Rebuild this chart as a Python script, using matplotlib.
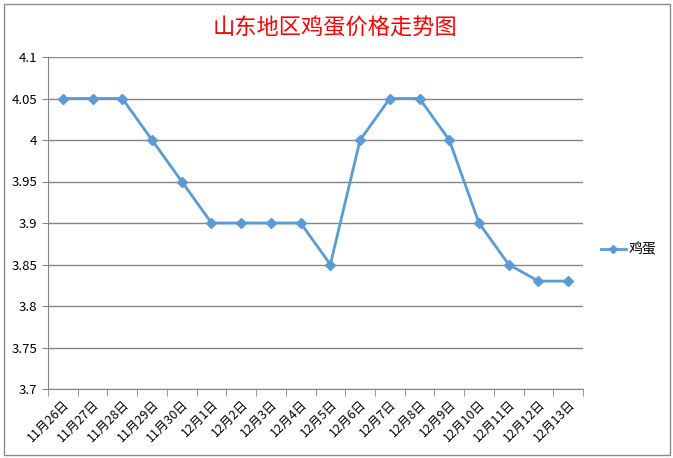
import numpy as np
import matplotlib
matplotlib.use("Agg")
import matplotlib.pyplot as plt
from matplotlib.patches import Rectangle

plt.rcParams['font.family'] = ['Noto Sans CJK SC', 'DejaVu Sans']

# data
dates = ['11月26日', '11月27日', '11月28日', '11月29日', '11月30日', '12月1日',
         '12月2日', '12月3日', '12月4日', '12月5日', '12月6日', '12月7日',
         '12月8日', '12月9日', '12月10日', '12月11日', '12月12日', '12月13日']
prices = [4.05, 4.05, 4.05, 4.00, 3.95, 3.90, 3.90, 3.90, 3.90, 3.85,
          4.00, 4.05, 4.05, 4.00, 3.90, 3.85, 3.83, 3.83]
yticks = [3.7, 3.75, 3.8, 3.85, 3.9, 3.95, 4.0, 4.05, 4.1]
ytick_labels = ['3.7', '3.75', '3.8', '3.85', '3.9', '3.95', '4', '4.05', '4.1']

fig = plt.figure(figsize=(6.73, 4.58), dpi=100)
fig.patch.set_facecolor('white')
# chart border
fig.patches.append(Rectangle((4 / 673, 3 / 458), 666 / 673, 451 / 458,
                             transform=fig.transFigure, fill=False,
                             edgecolor='#8c8c8c', linewidth=1))

ax = fig.add_axes([48 / 673, 69 / 458, 535 / 673, 332 / 458])
x = np.arange(len(dates))
ax.plot(x, prices, color='#5B9BD5', linewidth=2, marker='D', markersize=5,
        label='鸡蛋', zorder=3)

ax.set_xlim(-0.5, len(dates) - 0.5)
ax.set_ylim(3.7, 4.1)
ax.set_yticks(yticks)
ax.set_yticklabels(ytick_labels, fontsize=9.5)
ax.yaxis.grid(True, color='#868686', linewidth=1)
ax.set_axisbelow(True)

ax.set_xticks(x)
ax.set_xticklabels(dates, rotation=45, ha='right', rotation_mode='anchor', fontsize=9)
ax.set_xticks(np.arange(-0.5, len(dates)), minor=True)
ax.tick_params(axis='x', which='major', length=0, pad=6)
ax.tick_params(axis='x', which='minor', length=5, color='#868686', direction='out')
ax.tick_params(axis='y', length=4, color='#868686', direction='out')

for s in ['top', 'right']:
    ax.spines[s].set_visible(False)
for s in ['left', 'bottom']:
    ax.spines[s].set_color('#868686')

fig.text(335 / 673, 1 - 28 / 458, '山东地区鸡蛋价格走势图', color='red',
         fontsize=16, fontweight='medium', ha='center', va='center')

ax.legend(loc='center left', bbox_to_anchor=(1.01, 0.42), frameon=False,
          fontsize=10, handlelength=1.8, handletextpad=0.2, markerscale=0.8)

fig.savefig('out.png', dpi=100)
